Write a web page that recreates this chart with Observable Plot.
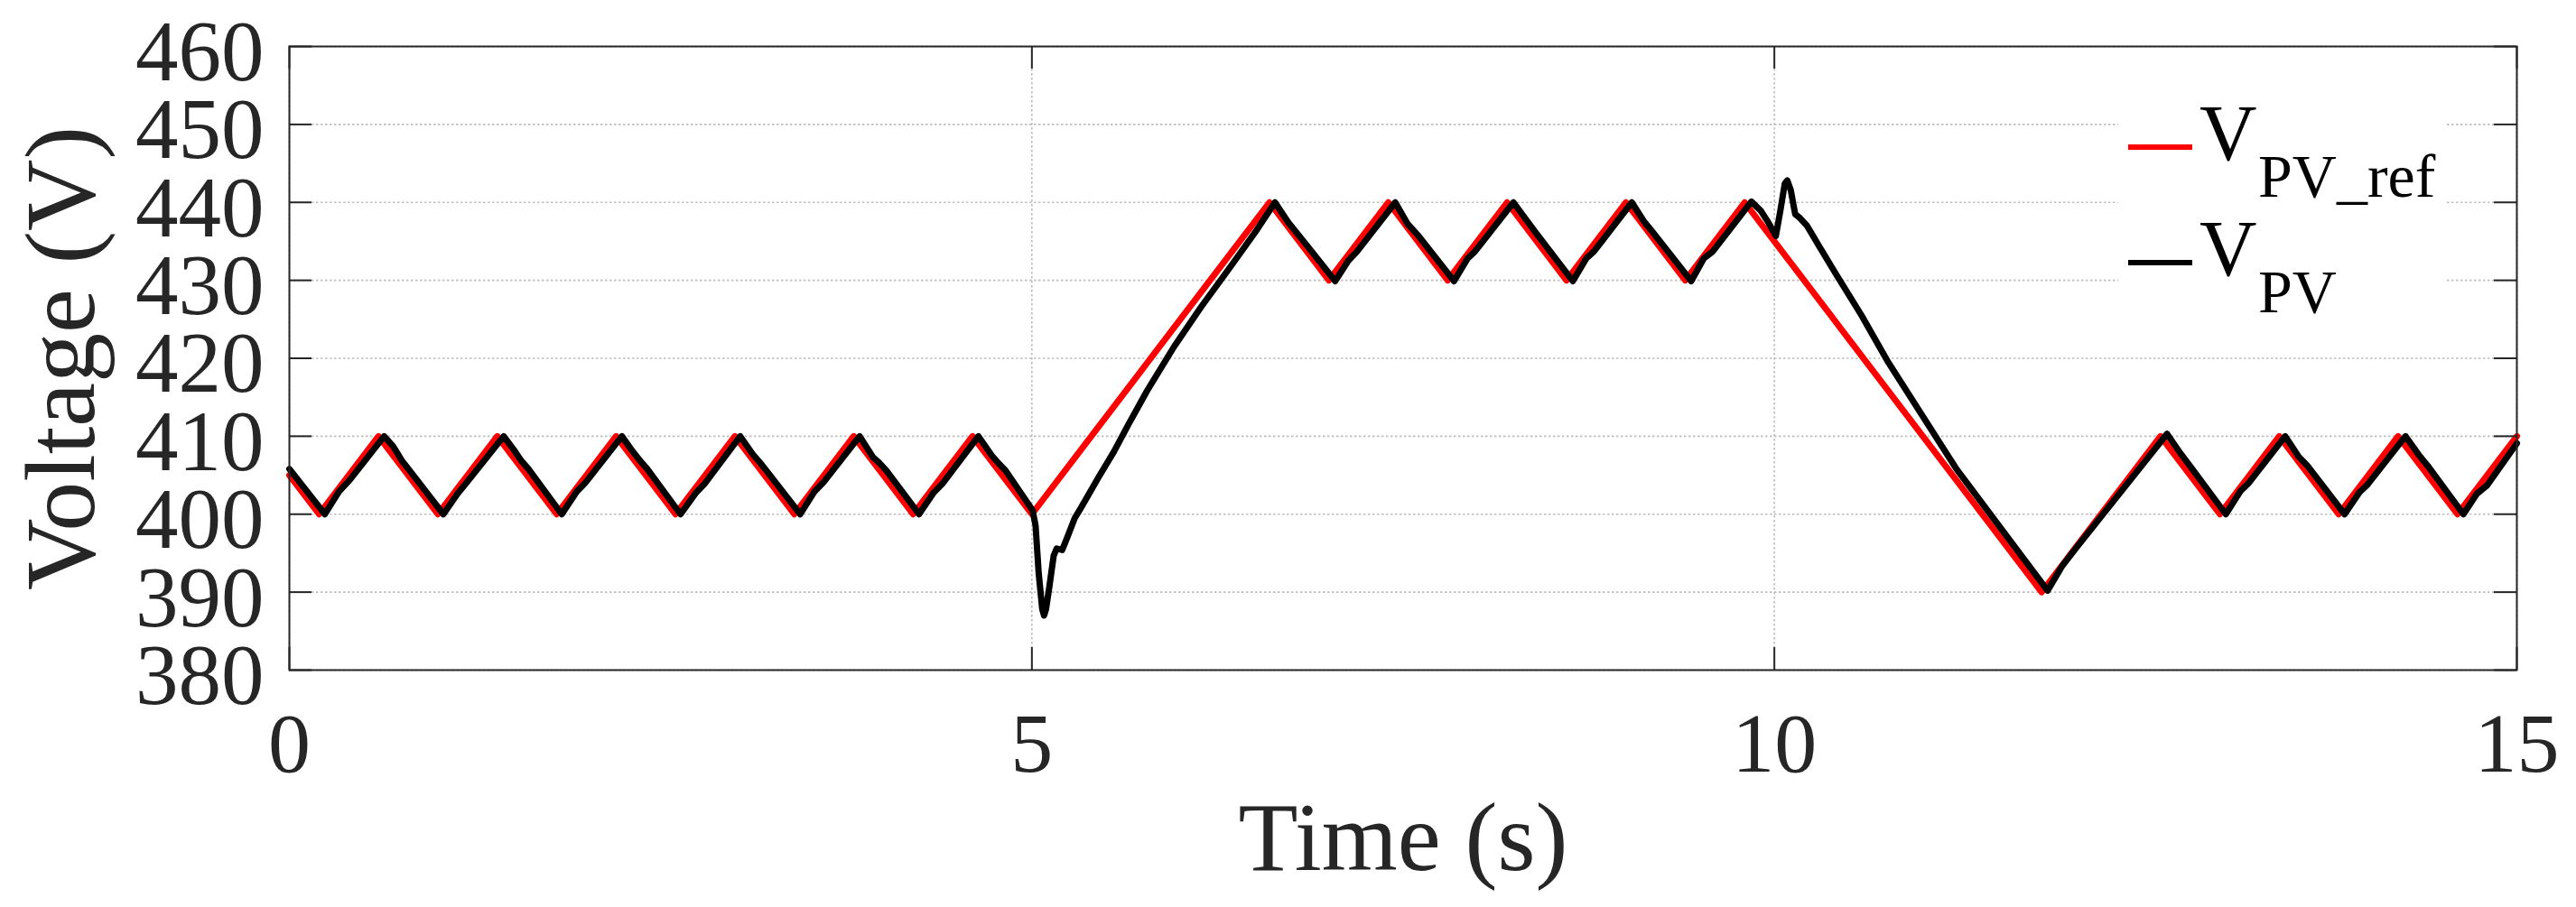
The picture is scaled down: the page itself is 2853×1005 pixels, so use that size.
<!DOCTYPE html>
<html><head><meta charset="utf-8">
<script src="https://cdn.jsdelivr.net/npm/d3@7"></script>
<script src="https://cdn.jsdelivr.net/npm/@observablehq/plot@0.6"></script>
<style>html,body{margin:0;padding:0;background:#fff;overflow:hidden;} #chart{width:2853px;height:1005px;}</style>
</head><body><div id="chart"></div>
<script>
// ---- data ----
const xTicks = [0, 5, 10, 15];
const yTicks = [380, 390, 400, 410, 420, 430, 440, 450, 460];

const refT = [0, 0.2, 0.6, 1.0, 1.4, 1.8, 2.2, 2.6, 3.0, 3.4, 3.8, 4.2, 4.6, 5.0, 6.6, 7.0, 7.4, 7.8, 8.2, 8.6, 9.0, 9.4, 9.8, 11.8, 12.6, 13.0, 13.4, 13.8, 14.2, 14.6, 15.0];
const refV = [405, 400, 410, 400, 410, 400, 410, 400, 410, 400, 410, 400, 410, 400, 440, 430, 440, 430, 440, 430, 440, 430, 440, 390, 410, 400, 410, 400, 410, 400, 410];

const pvT = [0, 0.239, 0.334, 0.405, 0.638, 0.699, 0.76, 0.81, 1.037, 1.135, 1.196, 1.443, 1.51, 1.56, 1.61, 1.834, 1.935, 1.996, 2.239, 2.31, 2.36, 2.41, 2.634, 2.736, 2.796, 3.036, 3.12, 3.17, 3.22, 3.44, 3.536, 3.597, 3.84, 3.93, 3.972, 4.02, 4.24, 4.336, 4.397, 4.64, 4.731, 4.772, 4.823, 5.005, 5.025, 5.046, 5.07, 5.082, 5.095, 5.117, 5.147, 5.167, 5.204, 5.238, 5.289, 5.33, 5.451, 5.552, 5.65, 5.775, 5.958, 6.14, 6.343, 6.505, 6.637, 6.728, 6.809, 7.043, 7.13, 7.19, 7.447, 7.528, 7.599, 7.843, 7.934, 7.984, 8.243, 8.32, 8.39, 8.643, 8.733, 8.785, 9.04, 9.12, 9.18, 9.44, 9.524, 9.585, 9.845, 9.91, 9.96, 10.01, 10.04, 10.07, 10.087, 10.11, 10.14, 10.172, 10.22, 10.304, 10.415, 10.587, 10.76, 11.226, 11.631, 11.84, 11.936, 12.037, 12.644, 12.735, 12.806, 13.04, 13.14, 13.19, 13.44, 13.53, 13.59, 13.84, 13.94, 13.99, 14.25, 14.34, 14.4, 14.64, 14.73, 14.8, 15.0];
const pvV = [405.8, 400.0, 402.9, 404.35, 410.0, 408.7, 406.8, 405.6, 400.0, 402.7, 404.1, 410.0, 408.3, 406.9, 405.8, 400.0, 402.9, 404.1, 410.0, 408.1, 406.9, 405.8, 400.0, 402.7, 403.9, 410.0, 407.7, 406.6, 405.4, 400.0, 402.9, 404.1, 410.0, 407.3, 406.6, 405.6, 400.0, 402.7, 403.9, 410.0, 407.5, 406.6, 405.6, 400.5, 398.5, 392.4, 387.8, 387.0, 387.8, 390.6, 394.7, 395.6, 395.4, 397.0, 399.5, 400.8, 404.8, 408.0, 411.5, 415.8, 421.5, 426.6, 431.9, 436.2, 440.0, 437.4, 435.5, 429.9, 432.5, 433.7, 440.0, 437.3, 435.8, 429.9, 432.8, 433.7, 440.0, 438.0, 436.2, 429.9, 432.8, 433.7, 440.0, 437.6, 436.2, 429.9, 432.8, 433.7, 440.1, 438.9, 437.4, 435.7, 438.9, 442.4, 442.8, 441.6, 438.5, 438.0, 437.0, 434.3, 430.8, 425.5, 419.7, 405.8, 395.5, 390.2, 393.3, 395.8, 410.3, 407.8, 406.0, 400.0, 403.0, 403.9, 410.0, 407.4, 406.2, 400.0, 402.8, 403.7, 410.0, 407.6, 406.2, 400.0, 402.6, 403.7, 409.1];

const seriesMain = ["V", "V"];
const seriesSub = ["PV_ref", "PV"];
const seriesColors = ["#ff0000", "#000000"];
const xLabel = "Time (s)";
const yLabel = "Voltage (V)";

// ---- build ----
const refData = refT.map((t, i) => ({t, v: refV[i]}));
const pvData = pvT.map((t, i) => ({t, v: pvV[i]}));

const W = 2853, H = 1005;
const mL = 320, mR = 66, mT = 51, mB = 263;
const fw = W - mL - mR, fh = H - mT - mB;
const tickLen = 25;
const ink = "#262626";
const serif = "'Liberation Serif', 'Times New Roman', serif";
const gridStyle = {stroke: "#bdbdbd", strokeOpacity: 1, strokeWidth: 1.6, strokeDasharray: "2.5,2.5"};

const plot = Plot.plot({
  width: W, height: H,
  marginLeft: mL, marginRight: mR, marginTop: mT, marginBottom: mB,
  x: {domain: [0, 15]},
  y: {domain: [380, 460]},
  style: {fontFamily: serif, color: ink, background: "#fff"},
  marks: [
    Plot.gridX(xTicks, gridStyle),
    Plot.gridY(yTicks, gridStyle),
    Plot.line(refData, {x: "t", y: "v", stroke: seriesColors[0], strokeWidth: 7, strokeLinejoin: "round"}),
    Plot.line(pvData, {x: "t", y: "v", stroke: seriesColors[1], strokeWidth: 7, strokeLinejoin: "round", strokeLinecap: "round"}),
    Plot.frame({stroke: ink, strokeWidth: 2}),
    Plot.tickY(yTicks, {y: d => d, stroke: ink, strokeWidth: 2, insetRight: fw - tickLen}),
    Plot.tickY(yTicks, {y: d => d, stroke: ink, strokeWidth: 2, insetLeft: fw - tickLen}),
    Plot.tickX(xTicks, {x: d => d, stroke: ink, strokeWidth: 2, insetTop: fh - tickLen}),
    Plot.tickX(xTicks, {x: d => d, stroke: ink, strokeWidth: 2, insetBottom: fh - tickLen}),
    Plot.axisX(xTicks, {tickSize: 0, tickPadding: 46, fontSize: 94, label: null, fill: ink, tickFormat: d => String(d)}),
    Plot.axisY(yTicks, {tickSize: 0, tickPadding: 28, fontSize: 95, dy: 7, label: null, fill: ink, tickFormat: d => String(d)}),
    Plot.text([xLabel], {frameAnchor: "bottom", textAnchor: "middle", dy: 221, lineAnchor: "bottom", fontSize: 108, fill: ink}),
    Plot.text([yLabel], {frameAnchor: "left", textAnchor: "middle", dx: 103 - mL, rotate: -90, lineAnchor: "bottom", fontSize: 110, fill: ink})
  ]
});

document.getElementById("chart").appendChild(plot);

// ---- legend (inside plot, upper right) ----
const svg = d3.select(plot);
const lg = svg.append("g").attr("font-family", serif).attr("text-anchor", "start");
lg.append("rect").attr("x", 2346).attr("y", 95).attr("width", 362).attr("height", 255).attr("fill", "#fff");
const rowY = [163, 291];
seriesMain.forEach((m, i) => {
  lg.append("line").attr("x1", 2357).attr("x2", 2428).attr("y1", rowY[i]).attr("y2", rowY[i])
    .attr("stroke", seriesColors[i]).attr("stroke-width", 6);
  lg.append("text").attr("x", 2436).attr("y", rowY[i] + 14).attr("font-size", 88)
    .attr("font-family", serif).attr("text-anchor", "start").attr("fill", "#000").text(m);
  lg.append("text").attr("x", 2501).attr("y", rowY[i] + 55).attr("font-size", 68)
    .attr("font-family", serif).attr("text-anchor", "start").attr("fill", "#000").text(seriesSub[i]);
});
</script></body></html>
